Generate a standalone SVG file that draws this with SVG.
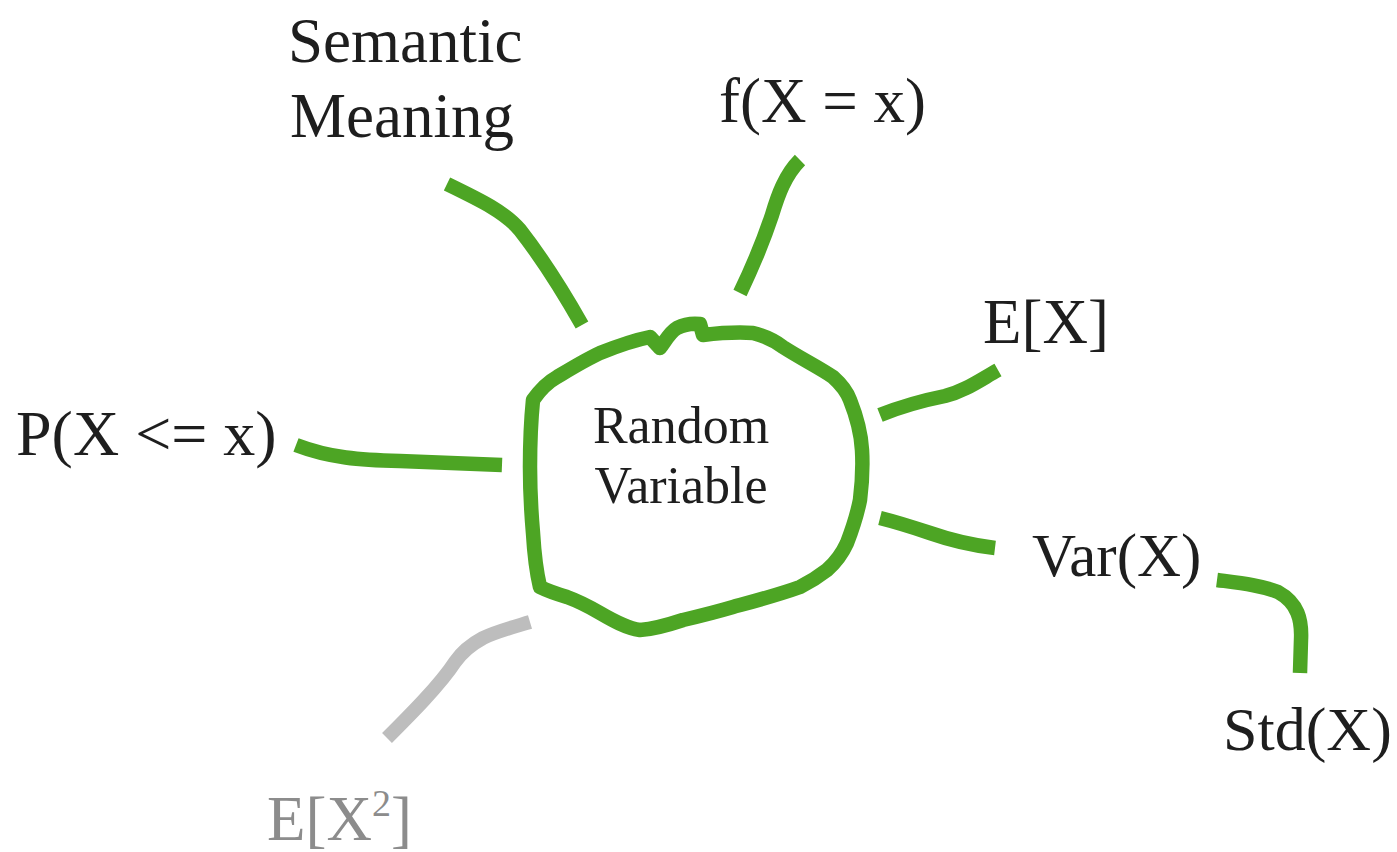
<svg xmlns="http://www.w3.org/2000/svg" width="1397" height="852" viewBox="0 0 1397 852">
<style>
.t{font-family:"Liberation Serif","Times New Roman",serif;fill:#1e1e1e;font-size:63px}
.g{fill:none;stroke:#4da524;stroke-width:14.5;stroke-linecap:butt;stroke-linejoin:round}
.gr{fill:none;stroke:#bdbdbd;stroke-width:14;stroke-linecap:butt;stroke-linejoin:round}
</style>
<rect width="1397" height="852" fill="#fff"/>
<g id="connectors">
<path class="g" d="M447,184 C480,200 505,212 520,230 C545,262 565,295 582,325"/>
<path class="g" d="M800,160 C785,175 778,195 772,215 C762,245 752,268 740,293"/>
<path class="g" d="M296,445 C330,458 360,460 400,461 L502,465"/>
<path class="g" d="M880,415 C905,405 925,400 945,396 C965,391 980,380 998,370"/>
<path class="g" d="M880,518 C900,523 915,528 930,533 C950,540 970,545 995,548"/>
<path class="g" d="M1217,580 C1240,583 1260,585 1278,592 C1298,603 1302,620 1301,640 L1300,673"/>
<path class="gr" d="M530,622 C510,628 495,632 483,638 C470,645 462,652 455,662 C440,685 410,715 387,738"/>
</g>
<g id="random-variable">
<path class="g" d="M533,400 C540,390 548,382 557,377 C572,368 585,360 600,353 C620,345 635,340 650,337 L660,348 C666,340 670,332 677,328 C685,324 692,323 700,324 L703,335 C720,333 738,332 753,333 C765,336 775,341 783,347 C800,358 820,368 833,377 C842,385 847,392 850,400 C856,415 861,432 862,450 C863,467 862,484 860,500 C857,515 852,530 847,543 C842,554 835,563 827,570 C818,577 810,582 800,587 C778,595 755,601 733,607 C716,612 700,616 683,620 C668,625 655,629 640,630 C626,628 612,620 600,613 C588,606 578,601 567,597 C557,594 548,591 540,587 C536,570 534,550 533,533 C531,510 530,490 530,467 C530,442 531,420 533,400 Z"/>
<text class="t" x="681" y="443" text-anchor="middle" style="font-size:52px">Random</text>
<text class="t" x="681" y="503" text-anchor="middle" style="font-size:52px">Variable</text>
</g>
<g id="semantic-meaning">
<text class="t" x="288" y="62">Semantic</text>
<text class="t" x="290" y="137">Meaning</text>
</g>
<g id="density">
<text class="t" x="719" y="122">f(X = x)</text>
</g>
<g id="cdf">
<text class="t" x="16" y="455" style="font-size:64px">P(X &lt;= x)</text>
</g>
<g id="expectation">
<text class="t" x="983" y="343">E[X]</text>
</g>
<g id="variance">
<text class="t" x="1032" y="576" style="font-size:61px">Var(X)</text>
</g>
<g id="std">
<text class="t" x="1223" y="750" style="font-size:62px">Std(X)</text>
</g>
<g id="second-moment">
<text class="t" x="267" y="840" style="fill:#8c8c8c">E[X<tspan dy="-24" style="font-size:38px">2</tspan><tspan dy="24">]</tspan></text>
</g>
</svg>
